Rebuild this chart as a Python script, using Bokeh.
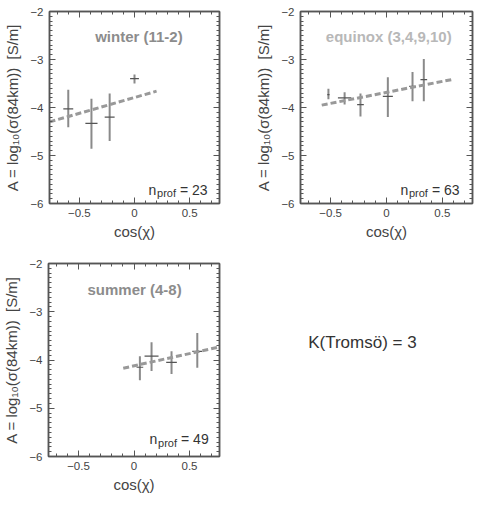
from bokeh.plotting import figure
from bokeh.models import (Range1d, SingleIntervalTicker, LinearAxis, Label,
                          CustomJSTickFormatter)
from bokeh.layouts import column, row
from bokeh.embed import file_html
from bokeh.resources import INLINE

# ---------------- data ----------------
winter_x = [-0.60, -0.39, -0.225, 0.0]
winter_y = [-4.03, -4.33, -4.20, -3.40]
winter_ylo = [-4.41, -4.86, -4.70, -3.50]
winter_yhi = [-3.63, -3.82, -3.71, -3.31]
winter_xerr = [0.045, 0.055, 0.045, 0.04]
winter_fit_x = [-0.77, 0.20]
winter_fit_y = [-4.30, -3.66]

equinox_x = [-0.52, -0.375, -0.233, 0.012, 0.233, 0.334]
equinox_y = [-3.73, -3.80, -3.94, -3.77, -3.56, -3.42]
equinox_ylo = [-3.83, -3.94, -4.19, -4.20, -3.87, -3.87]
equinox_yhi = [-3.61, -3.68, -3.71, -3.37, -3.26, -2.99]
equinox_xerr = [0.01, 0.06, 0.03, 0.045, 0.03, 0.03]
equinox_fit_x = [-0.58, 0.58]
equinox_fit_y = [-3.95, -3.42]

summer_x = [0.053, 0.158, 0.338, 0.57]
summer_y = [-4.15, -3.92, -4.05, -3.82]
summer_ylo = [-4.42, -4.23, -4.29, -4.16]
summer_yhi = [-3.92, -3.63, -3.82, -3.44]
summer_xerr = [0.03, 0.063, 0.048, 0.045]
summer_fit_x = [-0.097, 0.77]
summer_fit_y = [-4.17, -3.73]

titles = ["winter (11-2)", "equinox (3,4,9,10)", "summer (4-8)"]
nprof = [23, 63, 49]
station_text = "K(Tromsö) = 3"
x_label = "cos(χ)"
y_label = "A = log₁₀(σ(84km))\u00a0\u00a0[S/m]"

FONT = "Liberation Sans"
XMIN, XMAX = -0.77, 0.77
YMIN, YMAX = -6, -2


def style_axis(ax, is_x, show_labels):
    if is_x:
        ax.ticker = SingleIntervalTicker(interval=0.5, num_minor_ticks=5)
    else:
        ax.ticker = SingleIntervalTicker(interval=1, num_minor_ticks=10)
    ax.major_tick_in = 6
    ax.major_tick_out = 0
    ax.minor_tick_in = 3
    ax.minor_tick_out = 0
    ax.major_tick_line_color = "#555555"
    ax.minor_tick_line_color = "#555555"
    ax.axis_line_color = "#555555"
    ax.axis_line_width = 1.5
    ax.major_label_text_font = FONT
    ax.major_label_text_font_size = "11.5px"
    ax.major_label_text_color = "#444444"
    if not show_labels:
        ax.formatter = CustomJSTickFormatter(code="return ''")
        ax.major_label_standoff = 0
        ax.major_label_text_font_size = "1px"


def make_panel(xs, ys, ylo, yhi, xerr, fx, fy, title, title_color, n,
               width, height, bl, br, bt, bb, title_pos, n_pos):
    p = figure(width=width, height=height, output_backend="svg",
               toolbar_location=None, x_range=Range1d(XMIN, XMAX),
               y_range=Range1d(YMIN, YMAX),
               min_border_left=bl, min_border_right=br,
               min_border_top=bt, min_border_bottom=bb)
    p.grid.visible = False
    p.outline_line_color = "#555555"
    p.outline_line_width = 1.5
    p.background_fill_color = "white"
    p.border_fill_color = "white"

    style_axis(p.xaxis[0], True, True)
    style_axis(p.yaxis[0], False, True)
    p.xaxis.axis_label = x_label
    p.yaxis.axis_label = y_label
    for ax in (p.xaxis[0], p.yaxis[0]):
        ax.axis_label_text_font = FONT
        ax.axis_label_text_font_style = "normal"
        ax.axis_label_text_color = "#444444"
        ax.axis_label_text_font_size = "15px"
    p.xaxis.major_label_standoff = 5
    p.xaxis.axis_label_standoff = 3
    p.yaxis.major_label_standoff = 6
    p.yaxis.axis_label_standoff = 6

    top = LinearAxis()
    right = LinearAxis()
    style_axis(top, True, False)
    style_axis(right, False, False)
    p.add_layout(top, "above")
    p.add_layout(right, "right")

    # error bars
    p.segment(x0=xs, y0=ylo, x1=xs, y1=yhi, line_color="#8a8a8a",
              line_width=2)
    p.segment(x0=[x - e for x, e in zip(xs, xerr)], y0=ys,
              x1=[x + e for x, e in zip(xs, xerr)], y1=ys,
              line_color="#555555", line_width=1.2)
    # fit
    p.line(fx, fy, line_color="#999999", line_width=3, line_dash="6 3")

    p.add_layout(Label(x=title_pos[0], y=title_pos[1], text=title,
                       text_align="center", text_baseline="alphabetic",
                       text_font=FONT, text_font_style="bold",
                       text_font_size="15px", text_color=title_color))
    nx, ny = n_pos
    p.add_layout(Label(x=nx, y=ny, text="n", text_baseline="alphabetic",
                       text_font=FONT, text_font_size="14px",
                       text_color="#333333"))
    p.add_layout(Label(x=nx, y=ny - 0.08, x_offset=8.5, text="prof",
                       text_baseline="alphabetic", text_font=FONT,
                       text_font_size="11px", text_color="#333333"))
    p.add_layout(Label(x=nx, y=ny, x_offset=31.5, text="= %d" % n,
                       text_baseline="alphabetic", text_font=FONT,
                       text_font_size="14px", text_color="#333333"))
    return p


p1 = make_panel(winter_x, winter_y, winter_ylo, winter_yhi, winter_xerr,
                winter_fit_x, winter_fit_y, titles[0], "#8c8c8c", nprof[0],
                245, 252, 49, 26, 11, 49, (0.04, -2.52), (0.127, -5.71))
p2 = make_panel(equinox_x, equinox_y, equinox_ylo, equinox_yhi, equinox_xerr,
                equinox_fit_x, equinox_fit_y, titles[1], "#b8b8b8", nprof[1],
                242, 252, 55, 15, 11, 49, (0.02, -2.52), (0.125, -5.71))
p3 = make_panel(summer_x, summer_y, summer_ylo, summer_yhi, summer_xerr,
                summer_fit_x, summer_fit_y, titles[2], "#8c8c8c", nprof[2],
                245, 254, 48, 26, 11, 50, (0.005, -2.545), (0.14, -5.64))

p4 = figure(width=242, height=254, output_backend="svg",
            toolbar_location=None, x_range=Range1d(0, 1),
            y_range=Range1d(0, 1), min_border=0)
p4.axis.visible = False
p4.grid.visible = False
p4.outline_line_color = None
p4.add_layout(Label(x=0.483, y=0.59, text=station_text, text_align="center",
                    text_baseline="middle", text_font=FONT,
                    text_font_size="17px", text_color="#333333"))

layout = column(row(p1, p2), row(p3, p4))
open("out.html", "w").write(file_html(layout, INLINE))
